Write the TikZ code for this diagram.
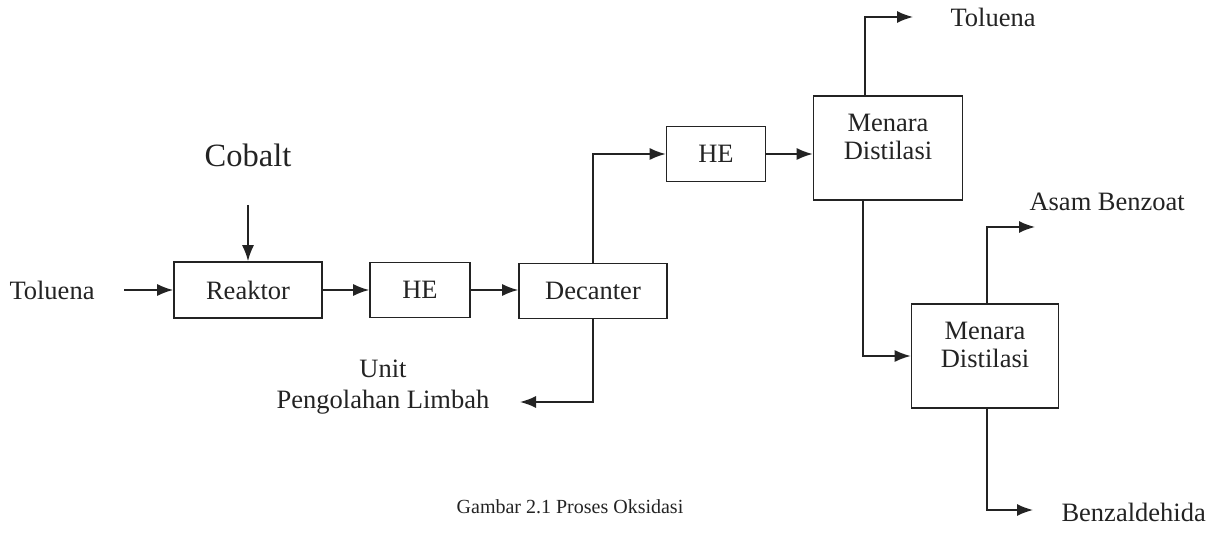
\documentclass[tikz,border=0pt]{standalone}
\usepackage{fontspec}
\setmainfont{Liberation Serif}
\usepackage{tikz}
\usepackage{xcolor}
\usetikzlibrary{arrows.meta}
\definecolor{ink}{HTML}{232323}

\begin{document}
\begin{tikzpicture}[x=1pt, y=-1pt,
    every node/.style={text=ink, font=\fontsize{26.5}{29}\selectfont},
    unit/.style={draw=ink, line width=1.6pt, inner sep=0pt, anchor=center, align=center},
    flow/.style={draw=ink, line width=1.6pt, -{Latex[length=16pt, width=12pt]}}]
      \useasboundingbox (0,0) rectangle (1221,553);

      \node[unit, minimum width=148pt, minimum height=56pt] (reaktor) at (248,290) {Reaktor};
      \node[unit, minimum width=100pt, minimum height=55pt] (he1) at (420,290) {HE};
      \node[unit, minimum width=148pt, minimum height=55pt] (decanter) at (593,291) {Decanter};
      \node[unit, minimum width=99pt, minimum height=55pt] (he2) at (716,154) {HE};
      \node[unit, minimum width=149pt, minimum height=104pt] (md1) at (888,148) {Menara\\[-1pt]Distilasi\\[-6pt]};
      \node[unit, minimum width=147pt, minimum height=104pt] (md2) at (985,356) {Menara\\[-1pt]Distilasi\\[-6pt]};

      \node[font=\fontsize{32.5}{36}\selectfont] (cobalt) at (248,155) {Cobalt};
      \node (tolin) at (52,290) {Toluena};
      \node[align=center] (limbah) at (383,387) {Unit\\[2pt]Pengolahan Limbah};
      \node[anchor=west] (tolout) at (947,17) {Toluena};
      \node[anchor=west] (asam) at (1026,202) {Asam Benzoat};
      \node[anchor=west] (benzal) at (1058,512) {Benzaldehida};
      \node[font=\fontsize{20}{22}\selectfont] (caption) at (570,507) {Gambar 2.1 Proses Oksidasi};

      \coordinate (cin) at (248,205);
      \coordinate (tin) at (124,290);
      \coordinate (lout) at (520,402);
      \coordinate (tout) at (913,17);
      \coordinate (aout) at (1035,227);
      \coordinate (bout) at (1033,510);

      \draw[flow] (cin) -- (reaktor.north);
      \draw[flow] (tin) -- (reaktor.west);
      \draw[flow] (reaktor.east) -- (he1.west);
      \draw[flow] (he1.east) -- (decanter.west |- he1.east);
      \draw[flow] (decanter.north) |- (he2.west);
      \draw[flow] (decanter.south) |- (lout);
      \draw[flow] (he2.east) -- (he2.east -| md1.west);
      \draw[flow] ([xshift=-23pt]md1.north) |- (tout);
      \draw[flow] ([xshift=-25pt]md1.south) |- (md2.west);
      \draw[flow] ([xshift=2pt]md2.north) |- (aout);
      \draw[flow] ([xshift=2pt]md2.south) |- (bout);
\end{tikzpicture}
\end{document}
